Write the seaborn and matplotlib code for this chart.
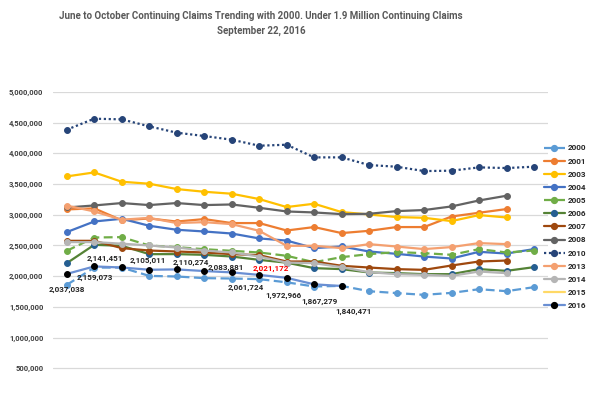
import numpy as np
import pandas as pd
import matplotlib
matplotlib.use("Agg")
import matplotlib.pyplot as plt
import seaborn as sns
from matplotlib.lines import Line2D
from matplotlib.ticker import FuncFormatter

# Weekly continuing claims, June -> October (index = week number)
y2000 = [1859000, 2140000, 2140000, 2005000, 1995000, 1968000, 1962000, 1952000, 1900000,
         1832000, 1842000, 1755000, 1725000, 1696000, 1728000, 1788000, 1756000, 1821000]
y2001 = [3087000, 3105000, 2910000, 2940000, 2890000, 2930000, 2865000, 2865000, 2744000,
         2800000, 2702000, 2739000, 2800000, 2800000, 2972000, 3033000, 3093000]
y2003 = [3625000, 3690000, 3538000, 3506000, 3419000, 3375000, 3343000, 3256000, 3126000,
         3180000, 3044000, 3005000, 2963000, 2951000, 2897000, 2995000, 2956000]
y2004 = [2718000, 2891000, 2935000, 2821000, 2756000, 2728000, 2695000, 2615000, 2580000,
         2457000, 2484000, 2402000, 2364000, 2320000, 2288000, 2397000, 2369000, 2441000]
y2005 = [2413000, 2630000, 2636000, 2500000, 2473000, 2440000, 2413000, 2386000, 2332000,
         2228000, 2310000, 2359000, 2392000, 2375000, 2348000, 2441000, 2386000, 2418000]
y2006 = [2212000, 2511000, 2495000, 2359000, 2359000, 2348000, 2320000, 2266000, 2220000,
         2131000, 2115000, 2060000, 2050000, 2033000, 2033000, 2115000, 2087000, 2147000]
y2007 = [2576000, 2576000, 2457000, 2418000, 2402000, 2386000, 2359000, 2343000, 2239000,
         2239000, 2169000, 2141000, 2115000, 2103000, 2174000, 2239000, 2255000]
y2008 = [3119000, 3152000, 3191000, 3158000, 3191000, 3158000, 3168000, 3114000, 3054000,
         3038000, 3011000, 3016000, 3060000, 3077000, 3136000, 3233000, 3310000]
y2010 = [4386000, 4565000, 4554000, 4440000, 4337000, 4283000, 4223000, 4125000, 4141000,
         3935000, 3935000, 3810000, 3783000, 3712000, 3718000, 3772000, 3761000, 3783000]
y2013 = [3150000, 3054000, 2920000, 2950000, 2865000, 2880000, 2848000, 2739000, 2495000,
         2495000, 2457000, 2522000, 2483000, 2441000, 2474000, 2539000, 2522000]
y2014 = [2555000, 2555000, 2530000, 2500000, 2467000, 2418000, 2386000, 2320000, 2222000,
         2212000, 2147000, 2065000, 2033000, 2022000, 2005000, 2076000, 2049000]
y2015 = []
y2016 = [2037038, 2159073, 2141451, 2105011, 2110274, 2083881, 2061724, 2021172, 1972966,
         1867279, 1840471]

years = ["2000", "2001", "2003", "2004", "2005", "2006", "2007", "2008",
         "2010", "2013", "2014", "2015", "2016"]
values = [y2000, y2001, y2003, y2004, y2005, y2006, y2007, y2008,
          y2010, y2013, y2014, y2015, y2016]

# line colour, marker colour, linestyle, marker
styles = {
    "2000": ("#5B9BD5", "#5B9BD5", (0, (4, 2)), "o"),
    "2001": ("#ED7D31", "#ED7D31", "-", "o"),
    "2003": ("#FFC000", "#FFC000", "-", "o"),
    "2004": ("#4472C4", "#4472C4", "-", "o"),
    "2005": ("#70AD47", "#70AD47", (0, (4, 2)), "o"),
    "2006": ("#548235", "#255E91", "-", "o"),
    "2007": ("#9E480E", "#9E480E", "-", "o"),
    "2008": ("#636363", "#636363", "-", "o"),
    "2010": ("#264478", "#264478", (0, (1, 1.2)), "o"),
    "2013": ("#F4A070", "#F4A070", "-", "o"),
    "2014": ("#B5B5B5", "#B5B5B5", "-", "o"),
    "2015": ("#FFD966", "#FFD966", "-", None),
    "2016": ("#6A8FD3", "#000000", "-", "o"),
}

# pixel offsets for the 2016 data labels
label_offsets = [(0, -16), (1, -11), (-17, 9), (-1, 9), (14, 7), (22, 4), (14, -15),
                 (12, 6), (-3, -18), (5, -17), (12, -26)]
highlight = 7

sns.set_style("white")
plt.rcParams["font.family"] = ["Roboto", "DejaVu Sans"]

fig = plt.figure(figsize=(5.96, 3.97), dpi=100)
ax = fig.add_axes([0.089, -0.005, 0.830, 0.7733])

handles = []
for yr, vals in zip(years, values):
    lc, mc, ls, mk = styles[yr]
    if vals:
        df = pd.DataFrame({"week": np.arange(len(vals)), "claims": vals})
        sns.lineplot(data=df, x="week", y="claims", ax=ax, color=lc, linestyle=ls,
                     linewidth=1.6, marker=mk, markersize=4.2, markerfacecolor=mc,
                     markeredgecolor=mc, zorder=3)
    handles.append(Line2D([], [], color=lc, linestyle=ls, linewidth=1.6, marker=mk,
                          markersize=4.2, markerfacecolor=mc, markeredgecolor=mc, label=yr))

for i, v in enumerate(y2016):
    dx, dy = label_offsets[i]
    ax.annotate(f"{v:,}", (i, v), xytext=(dx, dy), textcoords="offset pixels",
                ha="center", va="center", fontsize=5.8, fontweight="bold",
                color="#FF0000" if i == highlight else "#262626", zorder=5)

ax.set_xlim(-0.5, 17.5)
ax.set_ylim(0, 5000000)
ax.set_yticks(np.arange(500000, 5000001, 500000))
ax.axhline(0, color="#D9D9D9", linewidth=0.9, zorder=0)
ax.yaxis.set_major_formatter(FuncFormatter(lambda v, p: f"{v:,.0f}"))
ax.set_xticks([])
ax.set_xlabel("")
ax.set_ylabel("")
ax.tick_params(axis="y", length=0, pad=7, labelsize=5.5, labelcolor="#404040")
for lab in ax.get_yticklabels():
    lab.set_fontweight("bold")
ax.grid(axis="y", color="#D9D9D9", linewidth=0.9)
ax.set_axisbelow(True)
for s in ax.spines.values():
    s.set_visible(False)

leg = ax.legend(handles=handles, loc="upper left", bbox_to_anchor=(0.985, 0.84),
                frameon=False, fontsize=5.9, handlelength=2.6, handletextpad=0.3,
                labelspacing=0.75, borderaxespad=0.0)
for t in leg.get_texts():
    t.set_fontweight("bold")
    t.set_color("#262626")

fig.text(0.438, 0.96, "June to October Continuing Claims Trending with 2000. Under 1.9 Million Continuing Claims",
         ha="center", va="center", fontsize=7.0, fontweight="bold", color="#595959")
fig.text(0.438, 0.923, "September 22, 2016", ha="center", va="center",
         fontsize=7.0, fontweight="bold", color="#595959")

fig.savefig("out.png", dpi=100)
